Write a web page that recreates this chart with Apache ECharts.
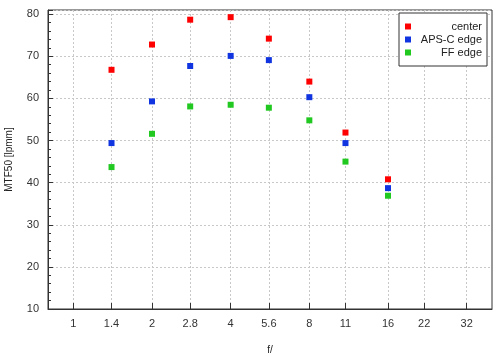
<!DOCTYPE html>
<html>
<head>
<meta charset="utf-8">
<script src="https://cdn.jsdelivr.net/npm/echarts@6/dist/echarts.min.js"></script>
<style>html,body{margin:0;padding:0;background:#fff}#c{width:500px;height:357px}</style>
</head>
<body>
<div id="c"></div>
<script>
const fStops = [1.4, 2, 2.8, 4, 5.6, 8, 11, 16];
const tickValues = [1, 1.4, 2, 2.8, 4, 5.6, 8, 11, 16, 22, 32];
const tickLabels = ['1', '1.4', '2', '2.8', '4', '5.6', '8', '11', '16', '22', '32'];
const center = [66.8, 72.8, 78.7, 79.3, 74.2, 64.0, 51.9, 40.8];
const apscEdge = [49.4, 59.3, 67.7, 70.1, 69.1, 60.3, 49.4, 38.7];
const ffEdge = [43.7, 51.6, 58.1, 58.5, 57.8, 54.8, 45.0, 36.9];
const seriesNames = ['center', 'APS-C edge', 'FF edge'];
const colors = ['#ff0000', '#1035e0', '#20c820'];

const FONT = 'Liberation Sans, Arial, sans-serif';
function pts(vals) { return fStops.map((f, i) => [f, vals[i]]); }
function labelFor(v) {
  let best = 0;
  for (let i = 1; i < tickValues.length; i++) {
    if (Math.abs(tickValues[i] - v) < Math.abs(tickValues[best] - v)) best = i;
  }
  return tickLabels[best];
}

const chart = echarts.init(document.getElementById('c'), null, {renderer: 'canvas'});
chart.setOption({
  animation: false,
  backgroundColor: '#fff',
  textStyle: {fontFamily: FONT},
  grid: {left: 48, right: 8, top: 10, bottom: 48, show: true, borderColor: '#333', borderWidth: 1,
         outerBoundsMode: 'none', containLabel: false},
  legend: {
    orient: 'vertical', right: 13, top: 13,
    padding: [8, 5, 8, 6], itemGap: 2,
    itemWidth: 6, itemHeight: 6, icon: 'rect',
    borderColor: '#333', borderWidth: 1, backgroundColor: '#fff',
    data: seriesNames,
    formatter: n => '{a|' + n + '}',
    textStyle: {rich: {a: {width: 66, align: 'right', fontSize: 11, color: '#222', fontFamily: FONT}}}
  },
  xAxis: {
    type: 'log', logBase: 2, min: 0.8, max: 40,
    name: 'f/', nameLocation: 'middle', nameGap: 36,
    nameTextStyle: {fontSize: 10, color: '#222', fontFamily: FONT},
    axisLine: {show: true, lineStyle: {color: '#333', width: 1}},
    axisTick: {show: true, inside: true, length: 6, lineStyle: {color: '#333'}, customValues: tickValues},
    axisLabel: {
      fontSize: 11, color: '#333', margin: 9, fontFamily: FONT,
      customValues: tickValues,
      formatter: v => labelFor(v)
    },
    splitLine: {show: true, lineStyle: {color: '#c8c8c8', type: [2, 2], width: 1}},
    minorTick: {show: false}
  },
  yAxis: {
    type: 'value', min: 10, max: 81, interval: 10,
    name: 'MTF50 [lpmm]', nameLocation: 'middle', nameGap: 34, nameRotate: 90,
    nameTextStyle: {fontSize: 10, color: '#222', fontFamily: FONT},
    axisLine: {show: true, lineStyle: {color: '#333', width: 1}},
    axisTick: {show: true, inside: true, length: 5, lineStyle: {color: '#333'}},
    minorTick: {show: true, splitNumber: 5, length: 3, lineStyle: {color: '#333'}},
    axisLabel: {fontSize: 11, color: '#333', margin: 9, showMaxLabel: false, fontFamily: FONT,
      formatter: v => (v % 10 === 0 ? String(v) : '')},
    splitLine: {show: true, lineStyle: {color: '#c8c8c8', type: [2, 2], width: 1}}
  },
  series: [center, apscEdge, ffEdge].map((vals, i) => ({
    name: seriesNames[i], type: 'scatter', symbol: 'rect', symbolSize: 6,
    itemStyle: {color: colors[i], opacity: 1}, data: pts(vals)
  }))
});
</script>
</body>
</html>
